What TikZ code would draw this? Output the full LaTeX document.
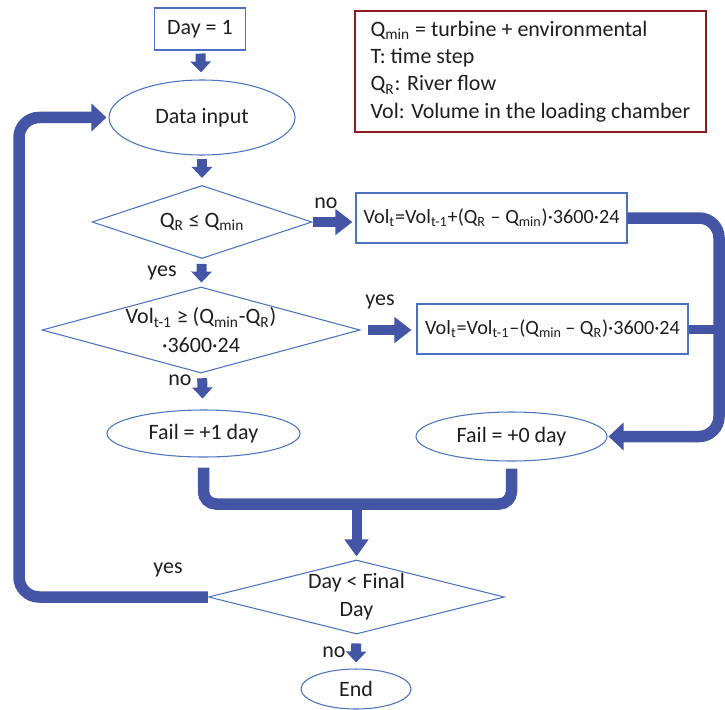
\documentclass[tikz,border=0pt]{standalone}
\usepackage{fontspec}
\setmainfont{Carlito}
\usetikzlibrary{arrows.meta,shapes.geometric}

\definecolor{flowblue}{RGB}{68,85,166}
\definecolor{edgeblue}{RGB}{74,114,190}
\definecolor{legendred}{RGB}{140,28,32}
\definecolor{inkgray}{RGB}{30,30,30}

\newcommand{\Qmin}{Q\textsubscript{min}}
\newcommand{\QR}{Q\textsubscript{R}}

\begin{document}
\begin{tikzpicture}[
    font=\fontsize{12.5}{16}\selectfont, text=inkgray,
    box/.style={draw=edgeblue, line width=0.6pt, inner sep=0pt, minimum height=1cm},
    oval/.style={ellipse, draw=edgeblue, line width=0.6pt, inner sep=0pt},
    test/.style={diamond, draw=edgeblue, line width=0.6pt, inner sep=0pt, align=center},
    legend/.style={draw=legendred, line width=0.9pt, align=left, minimum width=7.02cm,
      minimum height=2.42cm, font=\fontsize{12.5}{15.6}\selectfont},
    steparr/.style={draw=flowblue, line width=2mm, -{Triangle[width=4mm,length=2.2mm]}},
    sidearr/.style={draw=flowblue, line width=2mm, -{Triangle[width=5mm,length=3.4mm]}},
    pipe/.style={draw=flowblue, line width=2.3mm, rounded corners=4mm}
  ]
  \useasboundingbox (0,0) rectangle (14.5,-14.18);

  % main column
  \node[box, minimum width=1.82cm, minimum height=0.84cm] (day) at (4.00,-0.58) {Day = 1};
  \node[oval, minimum width=3.72cm, minimum height=1.50cm] (input) at (4.04,-2.35) {Data input};
  \node[test, shape aspect=3.0, minimum width=4.40cm, minimum height=1.46cm] (test1) at (4.04,-4.44)
    {\QR\ ≤ \Qmin};
  \node[test, shape aspect=3.7, minimum width=6.36cm, minimum height=1.72cm] (test2) at (4.02,-6.60)
    {Vol\textsubscript{t-1} ≥ (\Qmin-\QR)\\·3600·24};
  \node[oval, minimum width=3.86cm, minimum height=0.94cm] (fail1) at (4.07,-8.67) {Fail = +1 day};

  % volume updates
  \node[box, minimum width=5.42cm, font=\fontsize{11.5}{14}\selectfont] (upd1) at (9.83,-4.36)
    {Vol\textsubscript{t}=Vol\textsubscript{t-1}+(\QR\ – \Qmin)·3600·24};
  \node[box, minimum width=5.42cm, font=\fontsize{11.5}{14}\selectfont] (upd2) at (11.05,-6.58)
    {Vol\textsubscript{t}=Vol\textsubscript{t-1}–(\Qmin\,– \QR)·3600·24};
  \node[oval, minimum width=3.82cm, minimum height=0.98cm] (fail0) at (10.23,-8.73) {Fail = +0 day};

  % day counter
  \node[test, shape aspect=4.0, minimum width=5.92cm, minimum height=1.48cm] (test3) at (7.13,-11.94)
    {Day < Final\\Day};
  \node[oval, minimum width=2.20cm, minimum height=0.80cm] (end) at (7.12,-13.78) {End};

  \node[legend] (key) at (10.61,-1.43)
    {\Qmin\ = turbine + environmental\\T: time step\\\QR: River flow\\Vol: Volume in the loading chamber};

  % branch labels
  \node (no1) at (6.52,-4.07) {no};
  \node (yes1) at (3.24,-5.45) {yes};
  \node (yes2) at (7.60,-6.04) {yes};
  \node (no2) at (3.60,-7.60) {no};
  \node (yes3) at (3.36,-11.40) {yes};
  \node (no3) at (6.68,-13.04) {no};

  \coordinate (loopL) at (0.38,0);
  \coordinate (loopR) at (14.38,0);
  \coordinate (join) at (7.13,-10.08);

  \draw[steparr, shorten <=0.06cm, shorten >=0.14cm] (day) -- (input);
  \draw[steparr, shorten <=0.06cm, shorten >=0.14cm] (input) -- (test1);
  \draw[steparr, shorten <=0.10cm, shorten >=0.08cm] (test1) -- (test2);
  \draw[steparr, shorten <=0.10cm, shorten >=0.22cm] (test2) -- (fail1);
  \draw[steparr, shorten <=0.18cm, shorten >=0.12cm] (test3) -- (end);

  \draw[sidearr, shorten >=0.06cm] (test1.east) -- (test1.east -| upd1.west);
  \draw[sidearr, shorten <=0.14cm, shorten >=0.10cm] (test2.east) -- (test2.east -| upd2.west);

  % both outcomes meet before the day test
  \draw[pipe, rounded corners=2.5mm, shorten <=0.20cm, shorten >=0.14cm]
    (fail1.south) |- (join) -| (fail0.south);
  \draw[draw=flowblue, line width=2mm, -{Triangle[width=4.6mm,length=3.4mm]}, shorten >=0.06cm]
    (join) -- (test3.north);

  % loops back
  \draw[pipe, -{Triangle[width=5.4mm,length=3mm]}, shorten >=0.04cm]
    (test3.west) -- (test3.west -| loopL) -- (input.west -| loopL) -- (input.west);
  \draw[pipe, -{Triangle[width=5.4mm,length=3mm]}, shorten >=0.02cm]
    (upd1.east) -- (upd1.east -| loopR) -- (fail0.east -| loopR) -- (fail0.east);
  \draw[draw=flowblue, line width=1.8mm] (upd2.east) -- (upd2.east -| loopR);
\end{tikzpicture}
\end{document}
